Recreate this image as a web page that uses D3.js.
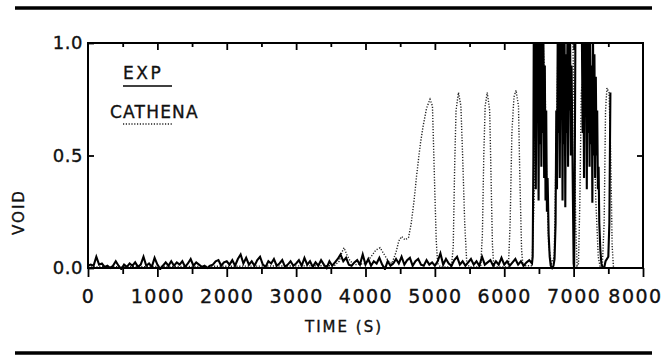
<!DOCTYPE html>
<html>
<head>
<meta charset="utf-8">
<script src="https://cdn.jsdelivr.net/npm/d3@7"></script>
<style>
  html, body { margin: 0; padding: 0; background: #fff; }
  svg { display: block; }
  text { font-family: "DejaVu Sans", sans-serif; fill: #111; stroke: #111; stroke-width: 0.35; }
</style>
</head>
<body>
<div id="chart"></div>
<script>
// ─── Data ───────────────────────────────────────────────────

// x ticks (s) and y ticks (void fraction)
const xMajorTicks = [0, 1000, 2000, 3000, 4000, 5000, 6000, 7000, 8000];
const xMinorTicks = [500, 1500, 2500, 3500, 4500, 5500, 6500, 7500];
const yTicks = [0, 0.5, 1.0];
const yTickLabels = ["0.0", "0.5", "1.0"];

// EXP baseline noise, sampled every 40 s from t = 0 to 6400 s
const expBaseStep = 40;
const expBaseVoid = [
  0.01, 0.015, 0.01, 0.05, 0.015, 0.02, 0.005, 0.01, 0.0, 0.01, 0.03, 0.01, -0.005, 0.015, 0.005, 0.02, 0.01, 0.025, 0.005, 0.015, 0.05, 0.01, 0.02, 0.005, 0.045,
  0.015, -0.005, 0.01, 0.025, 0.01, 0.03, 0.01, 0.025, 0.015, 0.03, 0.005, 0.02, 0.04, 0.01, 0.025, 0.015, 0.005, 0.01, 0.0, 0.01, 0.015, 0.03, 0.035, 0.01, 0.025,
  0.03, 0.015, 0.035, 0.01, 0.04, 0.06, 0.02, 0.045, 0.015, 0.03, 0.01, 0.035, 0.05, 0.015, 0.005, 0.03, 0.02, 0.04, 0.01, 0.02, 0.035, 0.005, 0.015, 0.03, 0.01,
  0.02, 0.035, 0.01, 0.045, 0.015, 0.03, 0.005, 0.025, 0.01, 0.035, 0.015, 0.0, 0.03, 0.01, 0.025, 0.04, 0.06, 0.03, 0.045, 0.015, 0.01, 0.025, 0.035, 0.015, 0.06,
  0.015, 0.04, 0.01, 0.03, 0.02, 0.045, 0.015, -0.005, 0.03, 0.01, 0.02, 0.04, 0.02, 0.05, 0.015, 0.035, 0.045, 0.01, 0.03, 0.04, 0.015, 0.01, 0.035, 0.015, 0.025,
  0.01, 0.03, 0.065, 0.015, 0.04, 0.02, 0.01, 0.035, 0.05, 0.015, 0.03, 0.01, 0.025, 0.04, 0.015, 0.03, 0.01, 0.05, 0.015, 0.025, 0.035, 0.01, 0.03, 0.015, 0.045,
  0.015, 0.03, 0.01, 0.025, 0.04, 0.015, 0.03, 0.01, 0.025, 0.035, 0.02
];

// EXP after dryout starts: [time s, void]
const expLate = [
  [6410, 0.05], [6420, 0.5], [6425, 1.0], [6435, 0.6], [6445, 1.0], [6455, 0.35], [6465, 1.0],
  [6475, 0.7], [6485, 1.0], [6495, 0.3], [6505, 1.0], [6515, 0.55], [6525, 1.0], [6535, 0.45],
  [6545, 1.0], [6555, 0.6], [6565, 1.0], [6575, 0.4], [6585, 0.9], [6595, 0.3], [6605, 0.7],
  [6615, 0.25], [6625, 0.4], [6640, 0.15], [6655, 0.05], [6670, 0.01], [6690, 0.0], [6710, 0.01],
  [6725, 0.04], [6740, 0.2], [6750, 0.7], [6760, 0.35], [6770, 1.0], [6780, 0.6], [6790, 1.0],
  [6800, 0.4], [6810, 1.0], [6820, 0.7], [6830, 1.0], [6840, 0.3], [6850, 1.0], [6860, 0.55],
  [6870, 1.0], [6880, 0.27], [6890, 0.95], [6900, 0.6], [6910, 1.0], [6920, 0.45], [6930, 1.0],
  [6940, 0.7], [6950, 1.0], [6960, 0.5], [6970, 0.9], [6980, 0.6], [6990, 0.3], [7000, 0.02],
  [7008, 0.0], [7016, 0.4], [7025, 1.0], [7120, 1.0], [7130, 0.6], [7140, 1.0], [7150, 0.4],
  [7160, 1.0], [7170, 0.7], [7180, 1.0], [7190, 0.35], [7200, 1.0], [7210, 0.6], [7220, 1.0],
  [7230, 0.45], [7240, 1.0], [7250, 0.55], [7260, 0.9], [7270, 0.29], [7280, 1.0], [7290, 0.5],
  [7300, 0.95], [7310, 0.4], [7320, 0.85], [7330, 0.5], [7340, 0.7], [7350, 0.35], [7360, 0.45],
  [7370, 0.2], [7385, 0.08], [7400, 0.02], [7420, 0.0], [7440, 0.0], [7460, 0.03], [7500, 0.05],
  [7515, 0.2], [7530, 0.78]
];

// CATHENA prediction: [time s, void]
const cathena = [
  [0, 0.005], [3550, 0.01], [3620, 0.03], [3660, 0.07], [3690, 0.09], [3730, 0.06], [3780, 0.03],
  [3850, 0.015], [4000, 0.02], [4080, 0.05], [4150, 0.08], [4210, 0.09], [4270, 0.06], [4330, 0.03],
  [4380, 0.02], [4440, 0.07], [4480, 0.12], [4520, 0.14], [4570, 0.125], [4620, 0.135], [4660, 0.2],
  [4700, 0.3], [4740, 0.42], [4790, 0.55], [4830, 0.63], [4880, 0.71], [4930, 0.75], [4965, 0.72],
  [4985, 0.5], [5000, 0.33], [5020, 0.12], [5040, 0.02], [5080, 0.005], [5240, 0.005], [5265, 0.1],
  [5285, 0.45], [5305, 0.7], [5340, 0.78], [5375, 0.72], [5400, 0.5], [5430, 0.2], [5460, 0.02],
  [5500, 0.005], [5660, 0.005], [5685, 0.15], [5705, 0.5], [5725, 0.72], [5755, 0.78], [5790, 0.7],
  [5810, 0.4], [5830, 0.1], [5850, 0.01], [5900, 0.005], [6060, 0.005], [6085, 0.2], [6110, 0.6],
  [6140, 0.76], [6170, 0.79], [6205, 0.72], [6225, 0.4], [6250, 0.08], [6270, 0.01], [6400, 0.01],
  [6430, 0.3], [6450, 0.9], [6470, 1.0], [6560, 1.0], [6590, 0.8], [6610, 0.4], [6640, 0.1],
  [6680, 0.02], [6720, 0.05], [6740, 0.4], [6770, 0.9], [6800, 1.0], [6990, 1.0], [7010, 0.6],
  [7030, 0.2], [7050, 0.01], [7070, 0.02], [7090, 0.3], [7110, 0.78], [7140, 0.85], [7200, 0.9],
  [7260, 0.7], [7295, 0.6], [7320, 0.3], [7355, 0.05], [7385, 0.0], [7415, 0.02], [7440, 0.2],
  [7460, 0.7], [7480, 0.8], [7510, 0.78], [7535, 0.5], [7555, 0.1], [7575, 0.0]
];

// ─── Layout ─────────────────────────────────────────────────

const width = 665;
const height = 358;
const plot = { left: 88, right: 643, top: 43, bottom: 268 };

const svg = d3.select("#chart")
  .append("svg")
  .attr("width", width)
  .attr("height", height);

const x = d3.scaleLinear().domain([0, 8000]).range([plot.left, plot.right]);
const y = d3.scaleLinear().domain([0, 1]).range([plot.bottom, plot.top]);

// page rules above and below the figure
svg.append("line")
  .attr("x1", 15).attr("x2", 652).attr("y1", 8).attr("y2", 8)
  .attr("stroke", "#000").attr("stroke-width", 3.5);
svg.append("line")
  .attr("x1", 15).attr("x2", 652).attr("y1", 353).attr("y2", 353)
  .attr("stroke", "#000").attr("stroke-width", 3.5);

svg.append("clipPath").attr("id", "plot-clip")
  .append("rect")
  .attr("x", plot.left).attr("y", plot.top - 1)
  .attr("width", plot.right - plot.left).attr("height", plot.bottom - plot.top + 3);

// ─── Series ─────────────────────────────────────────────────

const expPoints = expBaseVoid.map((v, i) => [i * expBaseStep, v]).concat(expLate);

const line = d3.line()
  .x((d) => x(d[0]))
  .y((d) => y(d[1]));

const series = svg.append("g").attr("clip-path", "url(#plot-clip)");

series.append("path")
  .datum(cathena)
  .attr("d", line)
  .attr("fill", "none")
  .attr("stroke", "#222")
  .attr("stroke-width", 1.4)
  .attr("stroke-dasharray", "1.2,1.6");

series.append("path")
  .datum(expPoints)
  .attr("d", line)
  .attr("fill", "none")
  .attr("stroke", "#000")
  .attr("stroke-width", 2.1)
  .attr("stroke-linejoin", "miter");

// ─── Axes ───────────────────────────────────────────────────

function styleAxis(g) {
  g.select(".domain").remove();
  g.selectAll(".tick line").attr("stroke", "#000").attr("stroke-width", 1.8);
  g.selectAll(".tick text").attr("font-size", 19).attr("letter-spacing", 1.5).attr("fill", "#111");
}

const xLabels = svg.append("g")
  .attr("transform", `translate(0,${plot.bottom})`)
  .call(d3.axisBottom(x).tickValues(xMajorTicks).tickSize(9).tickPadding(13).tickFormat(d3.format("d")))
  .call(styleAxis);
// tick lines stay 9px, labels sit lower as in the original
xLabels.selectAll(".tick line").attr("y2", 9);
// last label sits a little inside the right edge, as in the original
xLabels.selectAll(".tick text").filter((d) => d === 8000).attr("dx", -8);

svg.append("g")
  .attr("transform", `translate(0,${plot.bottom})`)
  .call(d3.axisBottom(x).tickValues(xMinorTicks).tickSize(6).tickFormat(""))
  .call(styleAxis);

svg.append("g")
  .attr("transform", `translate(0,${plot.top})`)
  .call(d3.axisTop(x).tickValues(xMajorTicks.slice(1, -1)).tickSize(-7).tickFormat(""))
  .call(styleAxis);

svg.append("g")
  .attr("transform", `translate(0,${plot.top})`)
  .call(d3.axisTop(x).tickValues(xMinorTicks).tickSize(-4).tickFormat(""))
  .call(styleAxis);

svg.append("g")
  .attr("transform", `translate(${plot.left},0)`)
  .call(d3.axisLeft(y).tickValues(yTicks).tickSize(-6).tickPadding(5).tickFormat((d, i) => yTickLabels[i]))
  .call(styleAxis)
  .call((g) => g.selectAll(".tick text").attr("font-size", 18).attr("letter-spacing", 0.5));

svg.append("g")
  .attr("transform", `translate(${plot.right},0)`)
  .call(d3.axisRight(y).tickValues([0.5]).tickSize(-6).tickFormat(""))
  .call(styleAxis);

// frame
svg.append("rect")
  .attr("x", plot.left).attr("y", plot.top)
  .attr("width", plot.right - plot.left).attr("height", plot.bottom - plot.top)
  .attr("fill", "none")
  .attr("stroke", "#000")
  .attr("stroke-width", 2);

// axis titles
svg.append("text")
  .attr("x", 344)
  .attr("y", 332)
  .attr("text-anchor", "middle")
  .attr("font-size", 15)
  .attr("letter-spacing", 2)
  .text("TIME (S)");

svg.append("text")
  .attr("transform", "translate(24,212) rotate(-90)")
  .attr("text-anchor", "middle")
  .attr("font-size", 15)
  .attr("letter-spacing", 2)
  .text("VOID");

// ─── Legend ─────────────────────────────────────────────────

const legend = svg.append("g");

legend.append("text")
  .attr("x", 123).attr("y", 79)
  .attr("font-size", 17).attr("letter-spacing", 2.5)
  .text("EXP");
legend.append("line")
  .attr("x1", 123).attr("x2", 172).attr("y1", 86).attr("y2", 86)
  .attr("stroke", "#000").attr("stroke-width", 1.3);

legend.append("text")
  .attr("x", 110).attr("y", 118)
  .attr("font-size", 17).attr("letter-spacing", 1.2)
  .text("CATHENA");
legend.append("line")
  .attr("x1", 123).attr("x2", 172).attr("y1", 124).attr("y2", 124)
  .attr("stroke", "#222").attr("stroke-width", 1.4)
  .attr("stroke-dasharray", "1.2,1.6");
</script>
</body>
</html>
